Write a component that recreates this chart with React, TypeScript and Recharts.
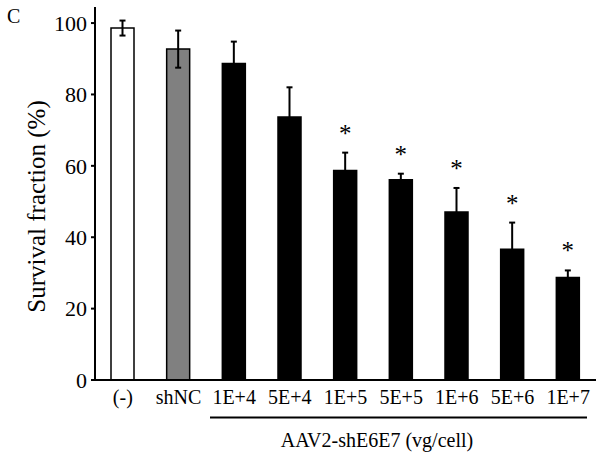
import React from 'react';
import { BarChart, Bar, XAxis, YAxis, Cell, ErrorBar, LabelList } from 'recharts';

const groups = ['(-)', 'shNC', '1E+4', '5E+4', '1E+5', '5E+5', '1E+6', '5E+6', '1E+7'];
const means = [98.6, 92.7, 88.7, 73.7, 58.7, 56.1, 47.1, 36.6, 28.7];
const errs = [2.1, 5.2, 6.1, 8.3, 5.0, 1.7, 6.7, 7.5, 2.0];
const sig = [false, false, false, false, true, true, true, true, true];
const fills = ['#ffffff', '#808080', '#000000', '#000000', '#000000', '#000000', '#000000', '#000000', '#000000'];
const yTicks = [0, 20, 40, 60, 80, 100];

const data = groups.map((g, i) => ({ group: g, value: means[i], err: errs[i], star: sig[i] ? '*' : '' }));

const FONT = 'Liberation Serif, Times New Roman, serif';

// asterisk sits ~25px above the top of the error bar
const Star = (props: any) => {
  const { x, y, width, height, index } = props;
  if (!sig[index]) return null;
  const errPx = (height / means[index]) * errs[index];
  return (
    <text x={x + width / 2} y={y - errPx - 11} textAnchor="middle" style={{ fontFamily: FONT }} fontSize={25} fill="#000">
      *
    </text>
  );
};

export default function App() {
  return (
    <div style={{ position: 'absolute', left: 0, top: 0, width: 602, height: 458, background: '#fff', fontFamily: FONT }}>
      <BarChart
        width={602}
        height={458}
        data={data}
        margin={{ top: 7, right: 6, bottom: 48, left: 0 }}
        style={{ fontFamily: FONT }}
      >
        <XAxis
          dataKey="group"
          height={30}
          axisLine={{ stroke: '#000', strokeWidth: 2 }}
          tickLine={false}
          tickSize={4}
          tickMargin={6}
          interval={0}
          tick={{ fill: '#000', fontSize: 20, style: { fontFamily: FONT } }}
        />
        <YAxis
          width={95}
          domain={[0, 104.5]}
          ticks={yTicks}
          allowDataOverflow
          axisLine={{ stroke: '#000', strokeWidth: 2 }}
          tickLine={{ stroke: '#000', strokeWidth: 2 }}
          tickSize={4}
          tickMargin={4}
          tick={{ fill: '#000', fontSize: 22, style: { fontFamily: FONT } }}
          label={{
            value: 'Survival fraction (%)',
            angle: -90,
            position: 'insideLeft',
            offset: 0,
            dx: 36,
            dy: 13,
            style: { fill: '#000', fontFamily: FONT, fontSize: 25, textAnchor: 'middle' },
          }}
        />
        <Bar dataKey="value" barSize={23} stroke="#000" strokeWidth={1.5} isAnimationActive={false}>
          {data.map((d, i) => (
            <Cell key={d.group} fill={fills[i]} />
          ))}
          <ErrorBar dataKey="err" width={3} stroke="#000" strokeWidth={2} />
          <LabelList dataKey="star" content={Star} />
        </Bar>
      </BarChart>
      <svg width={602} height={458} style={{ position: 'absolute', left: 0, top: 0, pointerEvents: 'none', fontFamily: FONT }}>
        <text x={7} y={23} fontSize={20} fill="#000">C</text>
        <line x1={210} x2={587} y1={417.5} y2={417.5} stroke="#000" strokeWidth={2} />
        <text x={377} y={447} textAnchor="middle" fontSize={20} fill="#000">
          AAV2-shE6E7 (vg/cell)
        </text>
      </svg>
    </div>
  );
}
